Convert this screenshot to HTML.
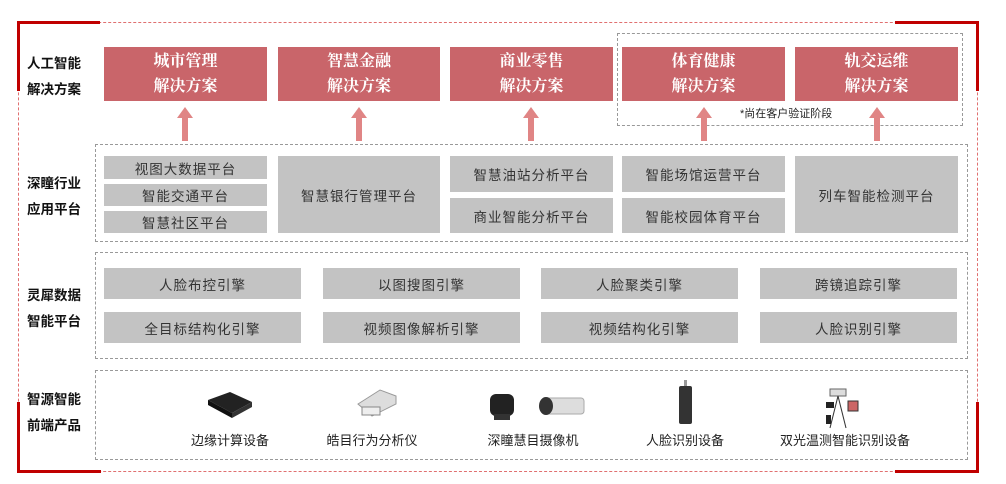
<!DOCTYPE html>
<html><head><meta charset="utf-8"><style>
*{margin:0;padding:0;box-sizing:border-box}
body{width:1006px;height:484px;background:#fff;position:relative;overflow:hidden;font-family:"Liberation Sans","Noto Sans CJK SC",sans-serif}
.a{position:absolute}
.red{background:#c9656a;color:#fff;font-family:"Liberation Serif","Noto Serif CJK SC",serif;font-weight:bold;font-size:16px;text-align:center;line-height:25px;padding-top:2px}
.g{background:#c3c3c3;color:#333;font-size:13.5px;display:flex;align-items:center;justify-content:center;letter-spacing:1px}
.lab{font-size:13.5px;font-weight:bold;color:#111;line-height:26px}
.dash{border:1px dashed #999}
.rb{background:#c00000}
.arr{width:16px;height:34px}
.cap{font-size:13px;color:#222;text-align:center;width:160px}
</style></head><body>
<!-- outer red dashed -->
<div class="a" style="left:18px;top:22px;width:960px;height:450px;border:1.5px dashed #e07070"></div>
<div class="a rb" style="left:17px;top:21px;width:83px;height:3px"></div>
<div class="a rb" style="left:17px;top:21px;width:3px;height:70px"></div>
<div class="a rb" style="left:895px;top:21px;width:84px;height:3px"></div>
<div class="a rb" style="left:976px;top:21px;width:3px;height:70px"></div>
<div class="a rb" style="left:17px;top:402px;width:3px;height:71px"></div>
<div class="a rb" style="left:17px;top:470px;width:84px;height:3px"></div>
<div class="a rb" style="left:976px;top:402px;width:3px;height:71px"></div>
<div class="a rb" style="left:895px;top:470px;width:84px;height:3px"></div>

<div class="a lab" style="left:27px;top:51px">人工智能<br>解决方案</div>
<div class="a lab" style="left:27px;top:171px">深瞳行业<br>应用平台</div>
<div class="a lab" style="left:27px;top:283px">灵犀数据<br>智能平台</div>
<div class="a lab" style="left:27px;top:387px">智源智能<br>前端产品</div>

<div class="a dash" style="left:617px;top:33px;width:346px;height:93px"></div>
<div class="a" style="left:740px;top:105px;font-size:11px;color:#222">*尚在客户验证阶段</div>

<div class="a red" style="left:104px;top:47px;width:163px;height:54px">城市管理<br>解决方案</div>
<div class="a red" style="left:278px;top:47px;width:162px;height:54px">智慧金融<br>解决方案</div>
<div class="a red" style="left:450px;top:47px;width:163px;height:54px">商业零售<br>解决方案</div>
<div class="a red" style="left:622px;top:47px;width:163px;height:54px">体育健康<br>解决方案</div>
<div class="a red" style="left:795px;top:47px;width:163px;height:54px">轨交运维<br>解决方案</div>

<svg class="a" style="left:0;top:0" width="1006" height="484">
<g fill="#e08585">
<polygon points="185,107 177,118 182,118 182,141 188,141 188,118 193,118"/>
<polygon points="359,107 351,118 356,118 356,141 362,141 362,118 367,118"/>
<polygon points="531,107 523,118 528,118 528,141 534,141 534,118 539,118"/>
<polygon points="704,107 696,118 701,118 701,141 707,141 707,118 712,118"/>
<polygon points="877,107 869,118 874,118 874,141 880,141 880,118 885,118"/>
</g>
</svg>

<div class="a dash" style="left:95px;top:144px;width:873px;height:98px"></div>
<div class="a g" style="left:104px;top:156px;width:163px;height:23px">视图大数据平台</div>
<div class="a g" style="left:104px;top:184px;width:163px;height:22px">智能交通平台</div>
<div class="a g" style="left:104px;top:211px;width:163px;height:22px">智慧社区平台</div>
<div class="a g" style="left:278px;top:156px;width:162px;height:77px">智慧银行管理平台</div>
<div class="a g" style="left:450px;top:156px;width:163px;height:36px">智慧油站分析平台</div>
<div class="a g" style="left:450px;top:198px;width:163px;height:35px">商业智能分析平台</div>
<div class="a g" style="left:622px;top:156px;width:163px;height:36px">智能场馆运营平台</div>
<div class="a g" style="left:622px;top:198px;width:163px;height:35px">智能校园体育平台</div>
<div class="a g" style="left:795px;top:156px;width:163px;height:77px">列车智能检测平台</div>

<div class="a dash" style="left:95px;top:252px;width:873px;height:107px"></div>
<div class="a g" style="left:104px;top:268px;width:197px;height:31px">人脸布控引擎</div>
<div class="a g" style="left:323px;top:268px;width:197px;height:31px">以图搜图引擎</div>
<div class="a g" style="left:541px;top:268px;width:197px;height:31px">人脸聚类引擎</div>
<div class="a g" style="left:760px;top:268px;width:197px;height:31px">跨镜追踪引擎</div>
<div class="a g" style="left:104px;top:312px;width:197px;height:31px">全目标结构化引擎</div>
<div class="a g" style="left:323px;top:312px;width:197px;height:31px">视频图像解析引擎</div>
<div class="a g" style="left:541px;top:312px;width:197px;height:31px">视频结构化引擎</div>
<div class="a g" style="left:760px;top:312px;width:197px;height:31px">人脸识别引擎</div>

<div class="a dash" style="left:95px;top:370px;width:873px;height:90px"></div>
<svg class="a" style="left:0;top:0" width="1006" height="484">
<polygon points="208,400 230,392 252,402 232,413" fill="#222"/>
<polygon points="208,400 232,413 232,418 208,405" fill="#111"/>
<polygon points="232,413 252,402 252,407 232,418" fill="#333"/>
<polygon points="358,404 380,390 396,396 396,404 372,416" fill="#ddd" stroke="#999"/>
<rect x="362" y="407" width="18" height="8" fill="#eee" stroke="#888"/>
<rect x="490" y="394" width="24" height="22" rx="6" fill="#222"/>
<rect x="494" y="414" width="16" height="6" fill="#333"/>
<rect x="542" y="398" width="42" height="16" rx="3" fill="#ddd" stroke="#aaa"/>
<ellipse cx="546" cy="406" rx="7" ry="9" fill="#333"/>
<rect x="679" y="386" width="13" height="38" rx="2" fill="#333"/>
<rect x="684" y="380" width="3" height="6" fill="#999"/>
<rect x="830" y="389" width="16" height="7" fill="#ddd" stroke="#666"/>
<line x1="838" y1="396" x2="830" y2="428" stroke="#333"/><line x1="838" y1="396" x2="846" y2="428" stroke="#333"/>
<rect x="826" y="402" width="8" height="6" fill="#222"/>
<rect x="848" y="401" width="10" height="10" fill="#c66" stroke="#333"/>
<rect x="826" y="415" width="5" height="9" fill="#222"/>
</svg>
<div class="a cap" style="left:150px;top:430px">边缘计算设备</div>
<div class="a cap" style="left:292px;top:430px">皓目行为分析仪</div>
<div class="a cap" style="left:453px;top:430px">深瞳慧目摄像机</div>
<div class="a cap" style="left:605px;top:430px">人脸识别设备</div>
<div class="a cap" style="left:765px;top:430px">双光温测智能识别设备</div>
</body></html>
